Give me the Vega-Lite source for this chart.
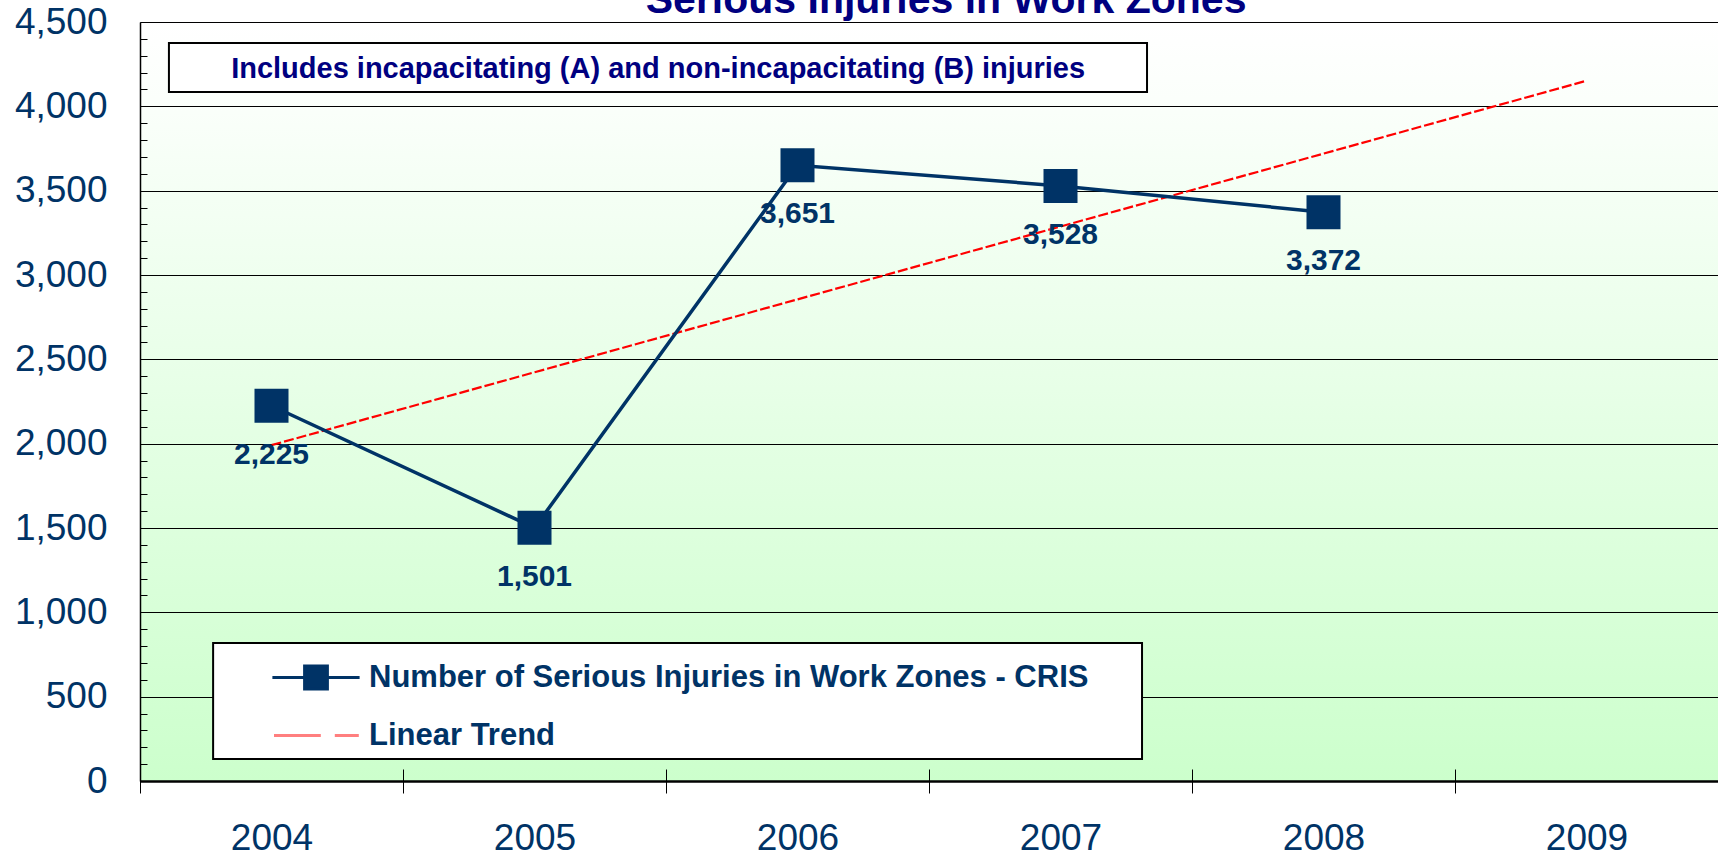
{
  "$schema": "https://vega.github.io/schema/vega-lite/v6.json",
  "width": 1578,
  "height": 759,
  "autosize": {"type": "none"},
  "padding": {"left": 140, "top": 22, "right": 0, "bottom": 75},
  "background": "#ffffff",
  "view": {
    "stroke": null,
    "fill": {
      "gradient": "linear",
      "x1": 0, "y1": 0, "x2": 0, "y2": 1,
      "stops": [
        {"offset": 0, "color": "#ffffff"},
        {"offset": 0.1, "color": "#fbfffb"},
        {"offset": 1, "color": "#ccffcc"}
      ]
    }
  },
  "datasets": {
    "main": [
      {"year": 2004, "value": 2225, "series": "Number of Serious Injuries in Work Zones - CRIS"},
      {"year": 2005, "value": 1501, "series": "Number of Serious Injuries in Work Zones - CRIS"},
      {"year": 2006, "value": 3651, "series": "Number of Serious Injuries in Work Zones - CRIS"},
      {"year": 2007, "value": 3528, "series": "Number of Serious Injuries in Work Zones - CRIS"},
      {"year": 2008, "value": 3372, "series": "Number of Serious Injuries in Work Zones - CRIS"}
    ],
    "trend": [
      {"year": 2004, "value": 1991.2, "series": "Linear Trend"},
      {"year": 2005, "value": 2423.3, "series": "Linear Trend"},
      {"year": 2006, "value": 2855.4, "series": "Linear Trend"},
      {"year": 2007, "value": 3287.5, "series": "Linear Trend"},
      {"year": 2008, "value": 3719.6, "series": "Linear Trend"},
      {"year": 2009, "value": 4151.7, "series": "Linear Trend"}
    ],
    "notes": [
      {"note": "Includes incapacitating (A) and non-incapacitating (B) injuries", "heading": "Serious Injuries in Work Zones"}
    ]
  },
  "config": {
    "font": "Liberation Sans",
    "legend": {
      "orient": "none",
      "legendX": 154.5,
      "legendY": 634,
      "padding": 0,
      "symbolSize": 1600,
      "symbolOffset": 0,
      "symbolOpacity": 1,
      "symbolStrokeWidth": 3,
      "labelOffset": 31.5,
      "rowPadding": 19,
      "labelFont": "Liberation Sans",
      "labelFontSize": 31,
      "labelFontWeight": "bold",
      "labelColor": "#003366",
      "labelLimit": 1400
    }
  },
  "layer": [
    {
      "data": {"name": "notes"},
      "mark": {"type": "rect", "fill": "#ffffff", "stroke": "#000000", "strokeWidth": 2},
      "encoding": {
        "x": {"datum": 2003.778, "type": "quantitative"},
        "x2": {"datum": 2007.31},
        "y": {"datum": 818, "type": "quantitative"},
        "y2": {"datum": 130}
      }
    },
    {
      "data": {"name": "notes"},
      "mark": {"type": "rect", "fill": "#ffffff", "stroke": "#000000", "strokeWidth": 2},
      "encoding": {
        "x": {"datum": 2003.61, "type": "quantitative"},
        "x2": {"datum": 2007.329},
        "y": {"datum": 4375, "type": "quantitative"},
        "y2": {"datum": 4085}
      }
    },
    {
      "data": {"name": "notes"},
      "mark": {"type": "text", "font": "Liberation Sans", "fontSize": 29, "fontWeight": "bold", "color": "#000080", "align": "center", "baseline": "alphabetic"},
      "encoding": {
        "x": {"datum": 2005.47, "type": "quantitative"},
        "y": {"datum": 4170, "type": "quantitative"},
        "text": {"field": "note"}
      }
    },
    {
      "data": {"name": "notes"},
      "mark": {"type": "text", "font": "Liberation Sans", "fontSize": 41, "fontWeight": "bold", "color": "#000080", "align": "center", "baseline": "alphabetic"},
      "encoding": {
        "x": {"datum": 2006.565, "type": "quantitative"},
        "y": {"datum": 4556, "type": "quantitative"},
        "text": {"field": "heading"}
      }
    },
    {
      "data": {"name": "trend"},
      "mark": {"type": "line", "strokeWidth": 2.2, "strokeDash": [10, 3], "color": "#ff0000"},
      "encoding": {
        "x": {
          "field": "year", "type": "quantitative",
          "scale": {"domain": [2003.5, 2009.5], "nice": false, "zero": false},
          "axis": {
            "title": null,
            "values": [2003.5, 2004, 2004.5, 2005, 2005.5, 2006, 2006.5, 2007, 2007.5, 2008, 2008.5, 2009, 2009.5],
            "tickCount": 100,
            "labelExpr": "datum.value % 1 === 0 ? '' + datum.value : ''",
            "tickOpacity": {"condition": {"test": "datum.value % 1 !== 0", "value": 1}, "value": 0},
            "offset": -12,
            "tickSize": 24,
            "tickColor": "#000000",
            "tickWidth": 1,
            "domain": false,
            "grid": false,
            "labelPadding": 27,
            "labelFont": "Liberation Sans",
            "labelFontSize": 37,
            "labelColor": "#003366",
            "labelFlush": false,
            "labelOverlap": false,
            "zindex": 1
          }
        },
        "y": {
          "field": "value", "type": "quantitative",
          "scale": {"domain": [0, 4500], "nice": false, "zero": true},
          "axis": {
            "title": null,
            "values": [0,100,200,300,400,500,600,700,800,900,1000,1100,1200,1300,1400,1500,1600,1700,1800,1900,2000,2100,2200,2300,2400,2500,2600,2700,2800,2900,3000,3100,3200,3300,3400,3500,3600,3700,3800,3900,4000,4100,4200,4300,4400,4500],
            "tickCount": 100,
            "labelExpr": "datum.value % 500 === 0 ? format(datum.value, ',') : ''",
            "grid": true,
            "gridColor": "#000000",
            "gridOpacity": {"condition": {"test": "datum.value % 500 === 0", "value": 1}, "value": 0},
            "gridWidth": {"condition": {"test": "datum.value === 0", "value": 2.5}, "value": 1},
            "tickSize": -7,
            "tickColor": "#000000",
            "tickWidth": 1,
            "domainColor": "#000000",
            "domainWidth": 1.5,
            "labelPadding": 40,
            "labelFont": "Liberation Sans",
            "labelFontSize": 37,
            "labelColor": "#003366",
            "labelOverlap": false,
            "labelFlush": false
          }
        }
      }
    },
    {
      "data": {"name": "main"},
      "mark": {"type": "line", "strokeWidth": 3.5},
      "encoding": {
        "x": {"field": "year", "type": "quantitative"},
        "y": {"field": "value", "type": "quantitative"},
        "color": {
          "field": "series", "type": "nominal",
          "scale": {
            "domain": ["Number of Serious Injuries in Work Zones - CRIS", "Linear Trend"],
            "range": ["#003366", "#ff7f7f"]
          },
          "legend": {"title": null}
        }
      }
    },
    {
      "data": {"name": "main"},
      "mark": {"type": "point", "filled": true, "opacity": 0},
      "encoding": {
        "x": {"field": "year", "type": "quantitative"},
        "y": {"field": "value", "type": "quantitative"},
        "color": {"field": "series", "type": "nominal", "legend": {"title": null}},
        "shape": {
          "field": "series", "type": "nominal",
          "scale": {
            "domain": ["Number of Serious Injuries in Work Zones - CRIS", "Linear Trend"],
            "range": ["M-2.18,0H2.18M-0.57,-0.57H0.57V0.57H-0.57Z", "M-2.1,0H0.24M0.94,0H2.14"]
          },
          "legend": {"title": null}
        }
      }
    },
    {
      "data": {"name": "main"},
      "mark": {"type": "point", "shape": "square", "filled": true, "size": 1156, "color": "#003366", "opacity": 1},
      "encoding": {
        "x": {"field": "year", "type": "quantitative"},
        "y": {"field": "value", "type": "quantitative"}
      }
    },
    {
      "data": {"name": "main"},
      "mark": {"type": "text", "font": "Liberation Sans", "fontSize": 30, "fontWeight": "bold", "color": "#003366", "align": "center", "baseline": "alphabetic", "dy": 58},
      "encoding": {
        "x": {"field": "year", "type": "quantitative"},
        "y": {"field": "value", "type": "quantitative"},
        "text": {"field": "value", "type": "quantitative", "format": ","}
      }
    }
  ]
}
